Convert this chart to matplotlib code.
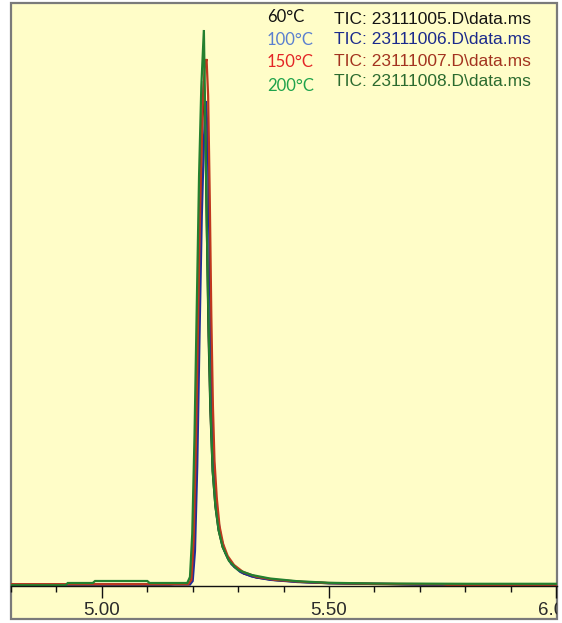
import matplotlib
matplotlib.use("Agg")
import matplotlib.pyplot as plt
from matplotlib.patches import Rectangle
from matplotlib.ticker import MultipleLocator, FixedLocator

# Retention time (min) and abundance (x1000 counts) for each TIC trace
t_60 = [4.80, 5.15, 5.16, 5.194, 5.200, 5.205, 5.210, 5.215, 5.220, 5.2246, 5.228, 5.2315,
        5.235, 5.239, 5.244, 5.250, 5.257, 5.266, 5.278, 5.292, 5.312, 5.340, 5.380,
        5.440, 5.500, 5.600, 5.700, 6.00]
y_60 = [15, 15, 20, 20, 120, 800, 2100, 3500, 4500, 5050, 4600, 3500,
        2500, 1750, 1150, 800, 560, 390, 270, 190, 125, 85, 60,
        40, 28, 20, 15, 15]

t_100 = [4.80, 5.194, 5.200, 5.205, 5.210, 5.215, 5.220, 5.225, 5.2295, 5.233, 5.2365,
         5.240, 5.244, 5.249, 5.255, 5.262, 5.272, 5.285, 5.305, 5.330, 5.370,
         5.430, 5.500, 5.620, 5.660, 5.700, 6.00]
y_100 = [15, 15, 50, 350, 1200, 2500, 3700, 4500, 4850, 4500, 3500,
         2400, 1500, 1000, 700, 490, 330, 220, 140, 95, 62,
         40, 28, 22, 18, 15, 15]

t_150 = [4.80, 5.190, 5.197, 5.202, 5.207, 5.212, 5.217, 5.222, 5.2265, 5.2305, 5.234, 5.2375,
         5.241, 5.2445, 5.248, 5.253, 5.259, 5.267, 5.277, 5.291, 5.311, 5.341, 5.381,
         5.441, 5.500, 5.600, 5.750, 5.760, 6.00]
y_150 = [18, 18, 60, 450, 1400, 2700, 3900, 4800, 5200, 5270, 4900, 3900,
         2700, 1800, 1250, 880, 600, 420, 300, 210, 140, 92, 62,
         42, 30, 22, 18, 12, 12]

t_200 = [4.80, 4.920, 4.925, 4.980, 4.985, 5.100, 5.105, 5.188, 5.194, 5.199, 5.204, 5.209,
         5.214, 5.219, 5.2246, 5.2275, 5.231, 5.235, 5.239, 5.244, 5.250, 5.257, 5.266,
         5.280, 5.300, 5.330, 5.370, 5.430, 5.500, 5.600, 5.800, 6.00]
y_200 = [8, 8, 30, 30, 50, 50, 30, 30, 90, 520, 1500, 2800,
         4100, 5000, 5560, 4700, 3600, 2600, 1800, 1150, 800, 560, 390,
         250, 160, 110, 75, 48, 32, 25, 22, 22]

temps = ["60°C", "100°C", "150°C", "200°C"]
files = ["TIC: 23111005.D\\data.ms", "TIC: 23111006.D\\data.ms",
         "TIC: 23111007.D\\data.ms", "TIC: 23111008.D\\data.ms"]
major_ticks = [5.00, 5.50, 6.00]
major_labels = ["5.00", "5.50", "6.00"]

trace_colors = ["#101010", "#1f2c9a", "#c0381e", "#23802f"]
temp_colors = ["#111111", "#5a7fd0", "#e32526", "#1fa34c"]
file_colors = ["#141414", "#1b2a8c", "#a3331f", "#2b6b2f"]

W, H = 562, 623
fig = plt.figure(figsize=(W / 100, H / 100), dpi=100, facecolor="white")

# Chart frame (light yellow panel with grey border)
fl, fr, ft, fb = 11, 557, 3, 619
frame = Rectangle((fl / W, 1 - fb / H), (fr - fl) / W, (fb - ft) / H,
                  transform=fig.transFigure, facecolor="#fffdc8",
                  edgecolor="#7a7a7a", linewidth=1.6, zorder=-5)
fig.add_artist(frame)

# Plot area: bottom spine is the time axis
ax_bottom = 586
ax = fig.add_axes([fl / W, 1 - ax_bottom / H, (fr - fl) / W, (ax_bottom - ft) / H])
ax.set_zorder(2)
ax.patch.set_visible(False)
for side in ("top", "left", "right"):
    ax.spines[side].set_visible(False)
ax.spines["bottom"].set_color("#111111")
ax.spines["bottom"].set_linewidth(1.0)

series = [(t_60, y_60), (t_100, y_100), (t_150, y_150), (t_200, y_200)]
for (t, y), c in zip(series, trace_colors):
    ax.plot(t, y, color=c, lw=1.6, solid_joinstyle="miter")

ax.set_xlim(4.80, 6.002)
ax.set_ylim(0, 5830)
ax.set_yticks([])
ax.xaxis.set_major_locator(FixedLocator(major_ticks))
ax.set_xticklabels(major_labels)
ax.xaxis.set_minor_locator(MultipleLocator(0.1))
ax.tick_params(axis="x", which="major", direction="out", length=8.6, width=1.0,
               color="#111111", pad=2.6, labelsize=13.5, labelcolor="#2a2a2a")
ax.tick_params(axis="x", which="minor", direction="out", length=4.3, width=1.0,
               color="#111111")
for lab in ax.get_xticklabels():
    lab.set_fontfamily("Liberation Sans")
    lab.set_clip_on(True)
    lab.set_clip_path(frame)

# Run labels
temp_rows = [17, 40, 62, 86]
file_rows = [19, 40, 61, 82]
for txt, c, yy in zip(temps, temp_colors, temp_rows):
    fig.text(267 / W, 1 - yy / H, txt, color=c, fontsize=12, family="Lato",
             ha="left", va="center", zorder=3)
for txt, c, yy in zip(files, file_colors, file_rows):
    fig.text(334 / W, 1 - yy / H, txt, color=c, fontsize=12.5,
             family="Liberation Sans", ha="left", va="center", zorder=3)

fig.savefig("out.png", dpi=100, facecolor="white")
